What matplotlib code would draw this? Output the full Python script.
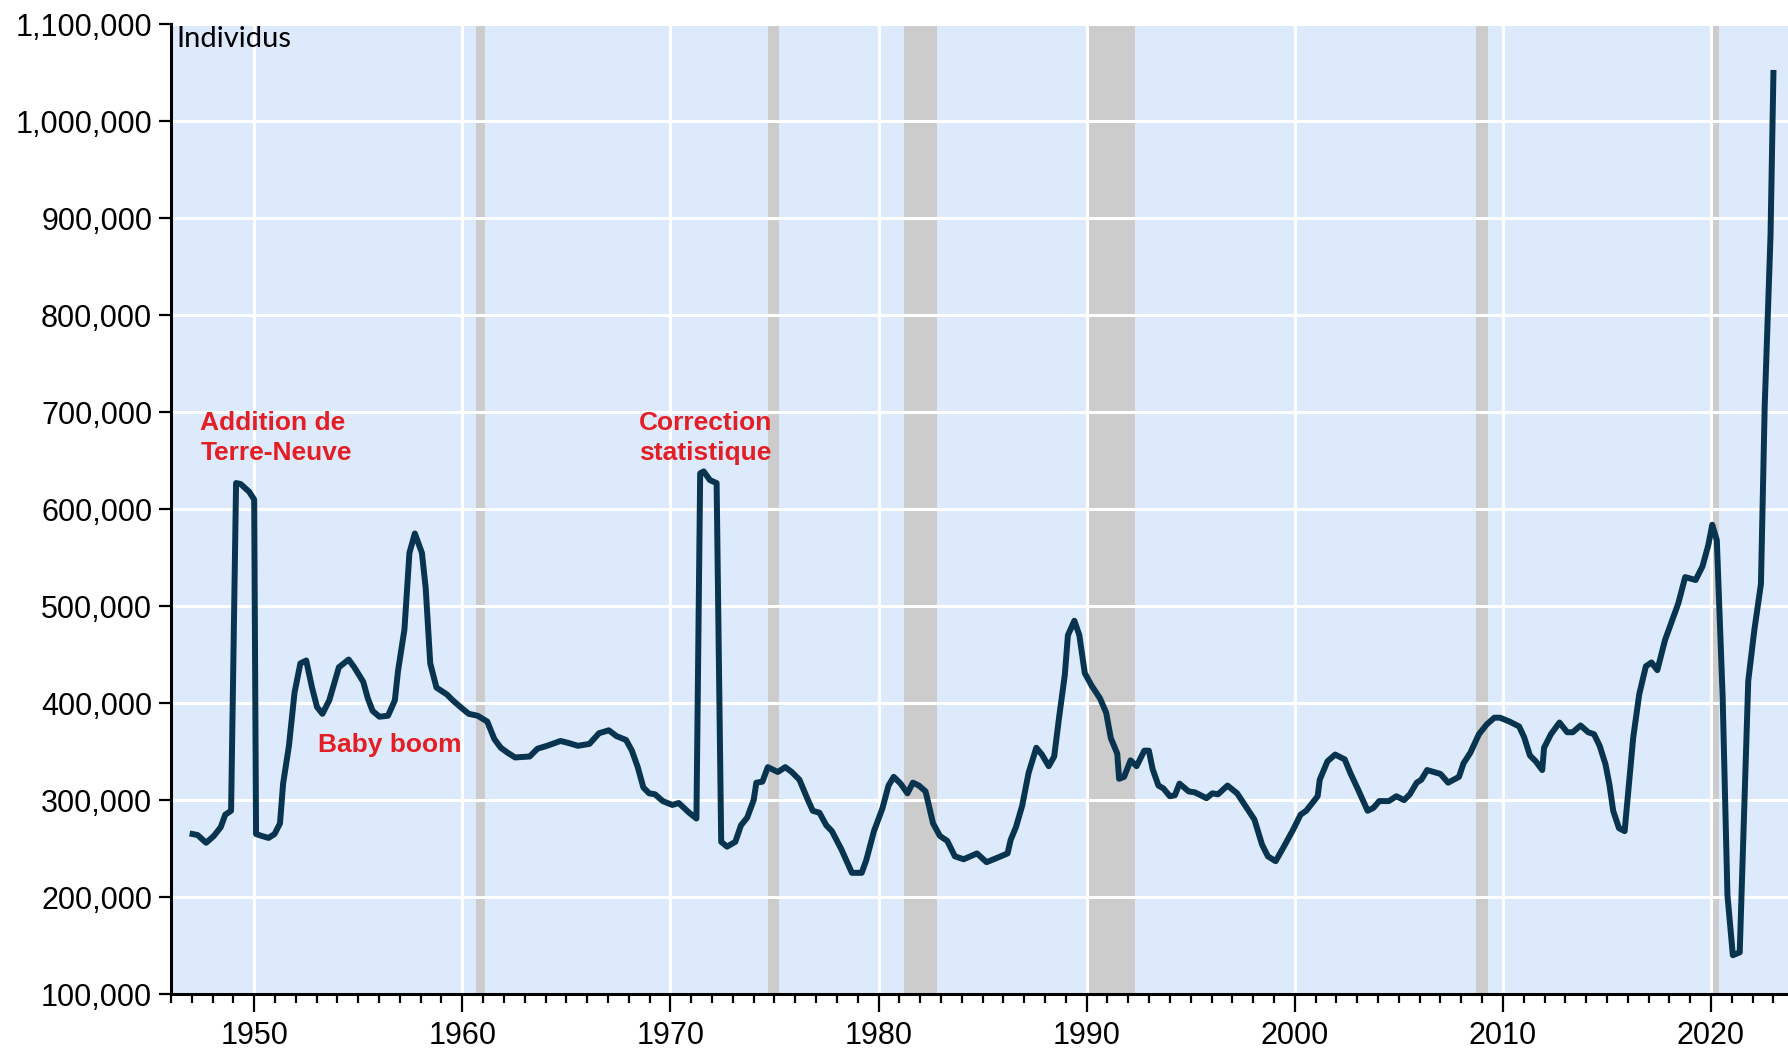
import matplotlib
matplotlib.use("Agg")
import matplotlib.pyplot as plt
from matplotlib.ticker import MultipleLocator, StrMethodFormatter

# Data (year, persons)
years = [1947.04, 1947.28, 1947.69, 1948.06, 1948.39, 1948.61, 1948.89, 1949.13, 1949.35, 1949.76,
         1950.00, 1950.09, 1950.37, 1950.69, 1950.98, 1951.24, 1951.39, 1951.67, 1951.94, 1952.22,
         1952.50, 1952.78, 1953.02, 1953.28, 1953.61, 1954.07, 1954.54, 1954.81, 1955.24, 1955.46,
         1955.69, 1956.02, 1956.43, 1956.76, 1956.91, 1957.22, 1957.46, 1957.72, 1958.06, 1958.24,
         1958.46, 1958.76, 1959.26, 1959.54, 1959.91, 1960.31, 1960.74, 1961.20, 1961.54, 1961.85,
         1962.17, 1962.54, 1963.24, 1963.61, 1964.07, 1964.72, 1965.09, 1965.56, 1966.11, 1966.57,
         1967.04, 1967.41, 1967.87, 1968.15, 1968.43, 1968.70, 1968.98, 1969.26, 1969.63, 1970.09,
         1970.40, 1970.90, 1971.25, 1971.43, 1971.60, 1971.90, 1972.22, 1972.44, 1972.72, 1973.12,
         1973.39, 1973.69, 1974.00, 1974.13, 1974.42, 1974.68, 1975.16, 1975.52, 1975.83, 1976.20,
         1976.57, 1976.84, 1977.16, 1977.49, 1977.76, 1978.22, 1978.72, 1979.19, 1979.41, 1979.78,
         1980.18, 1980.48, 1980.73, 1981.06, 1981.39, 1981.65, 1981.94, 1982.26, 1982.62, 1982.95,
         1983.30, 1983.67, 1984.09, 1984.73, 1985.19, 1985.65, 1986.20, 1986.35, 1986.60, 1986.90,
         1987.21, 1987.58, 1987.85, 1988.18, 1988.44, 1988.68, 1988.95, 1989.10, 1989.41, 1989.65,
         1989.91, 1990.24, 1990.64, 1990.94, 1991.16, 1991.47, 1991.56, 1991.80, 1992.11, 1992.40,
         1992.77, 1992.99, 1993.17, 1993.45, 1993.69, 1994.00, 1994.24, 1994.46, 1994.90, 1995.20,
         1995.76, 1996.04, 1996.31, 1996.77, 1997.23, 1997.60, 1998.06, 1998.43, 1998.71, 1999.08,
         1999.45, 1999.91, 2000.28, 2000.55, 2001.10, 2001.20, 2001.57, 2001.94, 2002.40, 2002.67,
         2003.04, 2003.50, 2003.78, 2004.06, 2004.52, 2004.88, 2005.25, 2005.53, 2005.86, 2006.08,
         2006.36, 2007.00, 2007.37, 2007.89, 2008.11, 2008.44, 2008.85, 2009.22, 2009.59, 2009.86,
         2010.32, 2010.78, 2011.02, 2011.30, 2011.58, 2011.89, 2011.98, 2012.31, 2012.72, 2013.09,
         2013.36, 2013.73, 2014.10, 2014.38, 2014.65, 2014.93, 2015.12, 2015.30, 2015.58, 2015.85,
         2016.04, 2016.26, 2016.55, 2016.87, 2017.14, 2017.42, 2017.79, 2018.16, 2018.43, 2018.76,
         2019.26, 2019.59, 2019.87, 2020.06, 2020.28, 2020.56, 2020.79, 2021.05, 2021.38, 2021.79,
         2022.08, 2022.40, 2022.58, 2022.86, 2023.00]
values_k = [265, 264, 256, 263, 272, 285, 289, 627, 626, 618,
            610, 265, 263, 261, 265, 276, 317, 356, 411, 441,
            444, 416, 396, 389, 403, 437, 445, 437, 422, 405,
            392, 386, 387, 403, 433, 476, 555, 575, 555, 519,
            441, 416, 409, 403, 396, 389, 387, 381, 363, 354,
            349, 344, 345, 353, 356, 361, 359, 356, 358, 369,
            372, 366, 362, 351, 334, 313, 307, 306, 299, 295,
            297, 287, 281, 637, 639, 630, 627, 257, 252, 257,
            274, 282, 300, 318, 319, 334, 329, 334, 329, 321,
            302, 289, 287, 274, 268, 249, 225, 225, 238, 268,
            291, 315, 324, 317, 307, 318, 315, 309, 276, 263,
            258, 242, 239, 245, 236, 240, 245, 259, 272, 294,
            328, 354, 347, 335, 345, 386, 429, 470, 485, 470,
            431, 418, 405, 390, 364, 348, 322, 324, 341, 335,
            351, 351, 332, 315, 312, 304, 305, 317, 309, 308,
            302, 307, 306, 315, 307, 295, 280, 254, 242, 237,
            251, 269, 285, 289, 304, 321, 340, 347, 342, 328,
            311, 289, 292, 299, 299, 304, 300, 306, 318, 321,
            331, 327, 318, 324, 338, 349, 368, 378, 385, 385,
            381, 376, 365, 346, 340, 331, 354, 368, 380, 370,
            370, 377, 370, 368, 356, 337, 316, 289, 271, 268,
            313, 364, 409, 438, 442, 434, 465, 487, 503, 530,
            527, 541, 563, 584, 568, 406, 202, 140, 143, 423,
            475, 523, 706, 882, 1050]
values = [v * 1000 for v in values_k]

# recessions (start, end)
recessions = [(1960.65, 1961.1), (1974.7, 1975.2), (1981.2, 1982.8), (1990.0, 1992.3),
              (2008.7, 2009.3), (2020.0, 2020.4)]

# annotations
notes = [("Addition de\nTerre-Neuve", 1947.42, 701000),
         ("Correction\nstatistique", 1968.5, 701000),
         ("Baby boom", 1953.05, 369000)]

fig = plt.figure(figsize=(17.88, 10.54), dpi=100)
ax = fig.add_axes([0.0956, 0.0569, 0.9044, 0.9199])
ax.set_facecolor("#DDEAFB")

for s, e in recessions:
    ax.axvspan(s, e, color="#CCCCCC", lw=0, zorder=0.2)

ax.plot(years, values, color="#08344F", lw=4.3, zorder=3)

ax.set_xlim(1946.0, 2023.7)
ax.set_ylim(100000, 1100000)
ax.yaxis.set_major_locator(MultipleLocator(100000))
ax.yaxis.set_major_formatter(StrMethodFormatter("{x:,.0f}"))
ax.xaxis.set_major_locator(MultipleLocator(10))
ax.xaxis.set_minor_locator(MultipleLocator(1))

ax.set_axisbelow(True)
ax.grid(True, which="major", color="white", lw=2.2)

for side in ["top", "right"]:
    ax.spines[side].set_visible(False)
for side in ["left", "bottom"]:
    ax.spines[side].set_linewidth(2.2)
    ax.spines[side].set_color("black")

ax.tick_params(axis="y", direction="out", length=8.5, width=1.6, pad=5,
               labelsize=22)
ax.tick_params(axis="x", which="major", direction="out", length=13, width=1.6, pad=6.5,
               labelsize=22)
ax.tick_params(axis="x", which="minor", direction="out", length=6.7, width=1.6)
for lbl in ax.get_xticklabels() + ax.get_yticklabels():
    lbl.set_fontfamily("Liberation Sans")

ax.text(1946.25, 1098000, "Individus", fontsize=21, family="Lato", va="top", ha="left")

for txt, x, y in notes:
    ax.text(x, y, txt, color="#E31E24", fontsize=19, fontweight="bold",
            family="Liberation Sans", va="top", ha="left", linespacing=1.3)

fig.savefig("out.png", dpi=100)
